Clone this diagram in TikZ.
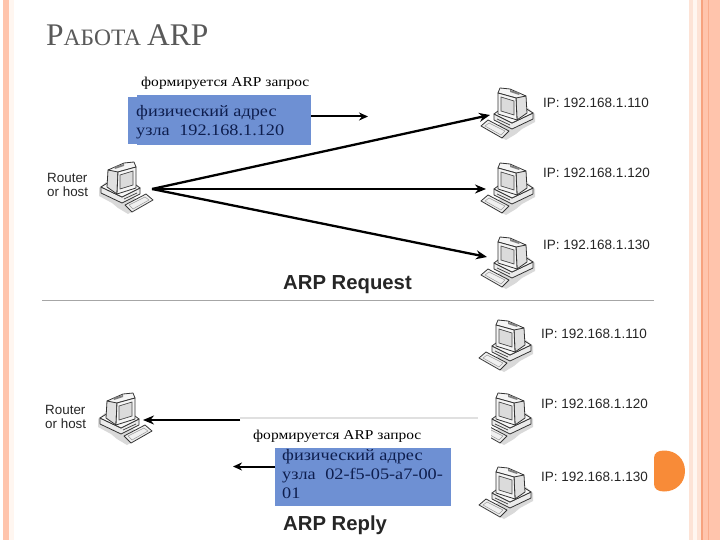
\documentclass[tikz,border=0pt]{standalone}
\usepackage{fontspec}
\setmainfont{Liberation Serif}
\newfontfamily\sansf{Liberation Sans}
\newfontfamily\wideserif[FakeStretch=1.14]{Liberation Serif}
\usetikzlibrary{arrows.meta}
\definecolor{peach}{HTML}{FFC4AC}
\definecolor{paleP}{HTML}{FDE3D6}
\definecolor{cream}{HTML}{FFF6F0}
\definecolor{deep}{HTML}{F7A27E}
\definecolor{boxblue}{HTML}{6E90D3}
\definecolor{navy}{HTML}{0E1E4E}
\definecolor{markorange}{HTML}{F88B38}
\tikzset{
  x=1pt,y=-1pt,
  arr/.style={line width=2.3pt,-{Stealth[length=11pt,width=9pt]}},
  smallarr/.style={line width=2pt,-{Stealth[length=9pt,width=8pt]}},
  iplabel/.style={anchor=west,inner sep=0pt,font=\sansf\fontsize{13.5}{16}\selectfont,text=black!85},
  hostlabel/.style={anchor=west,inner sep=0pt,align=left,font=\sansf\fontsize{13.4}{14.2}\selectfont,text=black!85},
  heading/.style={anchor=west,inner sep=0pt,font=\sansf\bfseries\fontsize{20.3}{22}\selectfont,text=black!85},
  note/.style={anchor=west,inner sep=0pt,font=\wideserif\fontsize{13.6}{15}\selectfont},
  boxtext/.style={anchor=north west,inner sep=0pt,align=left,text=navy,font=\wideserif\fontsize{16}{18.6}\selectfont},
  pcline/.style={draw=black!80,line width=0.8pt,line join=round},
  pc/.pic={
    \fill[black!15] (5,42) -- (24,52) -- (34,46) -- (40,41) -- (53,34) -- (53,26) -- (46,20) -- (30,30) -- cycle;
    % keyboard
    \filldraw[pcline,fill=black!6] (-1,38) -- (6,32) -- (27,43) -- (20,50) -- cycle;
    \draw[black!40,line width=0.5pt] (3,38) -- (7,35) -- (23,43) -- (19,47) -- cycle;
    % base
    \filldraw[pcline,fill=black!8] (12,26) -- (30,35) -- (51,25) -- (51,31) -- (30,41) -- (12,32) -- cycle;
    \filldraw[pcline,fill=black!3] (12,26) -- (20,20) -- (43,20) -- (51,25) -- (30,35) -- cycle;
    \draw[black!75,line width=0.7pt] (15,31) -- (28,37);
    % monitor
    \filldraw[pcline,fill=black!12] (34,7) -- (44,8) -- (45,25) -- (35,32) -- cycle;
    \filldraw[pcline,fill=black!4] (16,5) -- (18,0) -- (28,1) -- (44,8) -- (34,10) -- cycle;
    \filldraw[pcline,fill=black!4] (16,5) -- (34,10) -- (35,32) -- (16,26) -- cycle;
    \filldraw[draw=black!70,line width=0.7pt,fill=black!14] (19,9) -- (32,13) -- (32,27) -- (19,23) -- cycle;
    \fill[black!50] (28,2) -- (38,5) -- (37,7) -- (28,4) -- cycle;
  }
}
\begin{document}
\begin{tikzpicture}
\useasboundingbox (0,0) rectangle (720,540);
% side bands
\fill[peach] (3.3,0) rectangle (9.3,540);
\fill[cream] (9.3,0) rectangle (14,540);
\fill[paleP] (689,0) rectangle (693,540);
\fill[cream] (693,0) rectangle (697,540);
\fill[paleP] (697,0) rectangle (701,540);
\fill[deep] (701,0) rectangle (703,540);
\fill[peach] (703,0) rectangle (720,540);
\fill[deep!70!peach] (708,0) rectangle (709,540);
% title
\node[anchor=base west,inner sep=0pt,text=black!65] (title) at (46,46)
  {\fontsize{31.5}{32}\selectfont Р\fontsize{23.5}{24}\selectfont АБОТА \fontsize{31.5}{32}\selectfont ARP};
% computers
\pic (p1) at (482,88) {pc};
\pic (p2) at (482,163) {pc};
\pic (p3) at (482,237) {pc};
\pic[xscale=-1] (r1) at (152,162) {pc};
\pic (q1) at (480,320) {pc};
\pic (q2) at (480,393) {pc};
\pic (q3) at (480,467) {pc};
\pic[xscale=-1] (r2) at (151,393) {pc};
% labels
\node[iplabel] (ip1) at (543,103) {IP: 192.168.1.110};
\node[iplabel] (ip2) at (543,173) {IP: 192.168.1.120};
\node[iplabel] (ip3) at (543,245) {IP: 192.168.1.130};
\node[iplabel] (iq1) at (541,334) {IP: 192.168.1.110};
\node[iplabel] (iq2) at (541,404) {IP: 192.168.1.120};
\node[iplabel] (iq3) at (541,477) {IP: 192.168.1.130};
\node[hostlabel] (h1) at (47,185) {Router\\or host};
\node[hostlabel] (h2) at (45,417) {Router\\or host};
\node[heading] (reqt) at (283,285) {ARP Request};
\node[heading] (rept) at (283,525) {ARP Reply};
% separator
\coordinate (sepL) at (42,300.5);
\coordinate (sepR) at (654,300.5);
\draw[black!35,line width=1.5pt] (sepL) -- (sepR);
% request arrows
\coordinate (hub) at (152,189);
\coordinate (t1) at (490,115);
\coordinate (t2) at (486,189);
\coordinate (t3) at (487,257);
\draw[arr] (hub) -- (t1);
\draw[arr] (hub) -- (t2);
\draw[arr] (hub) -- (t3);
% top blue box
\fill[boxblue] (128,97) rectangle (311,144);
\fill[boxblue] (137,95) rectangle (311,145);
\coordinate (b1e) at (311,116.5);
\coordinate (b1t) at (368,116.5);
\draw[smallarr] (b1e) -- (b1t);
\node[boxtext] (b1) at (136,105.5) {физический адрес\\узла\hspace{0.6em}192.168.1.120};
\node[note] (n1) at (141,83) {формируется ARP запрос};
% reply: covered strip and upper arrow
\fill[black!12] (240,417) rectangle (478,418.5);
\fill[white] (240,418.5) rectangle (491,448);
\coordinate (s2) at (240,420);
\coordinate (t4) at (143,420);
\draw[arr] (s2) -- (t4);
\fill[boxblue] (275,448) rectangle (451,506);
\coordinate (b2w) at (275,466.5);
\coordinate (b2t) at (233,466.5);
\draw[smallarr] (b2w) -- (b2t);
\node[boxtext] (b2) at (282,449.5) {физический адрес\\узла\hspace{0.6em}02-f5-05-a7-00-\\01};
\node[note] (n2) at (253,436) {формируется ARP запрос};
% orange marker
\fill[markorange] (654,458) .. controls (654,453) and (658,450.5) .. (664,450.5)
  .. controls (676,450.5) and (685,459) .. (685,471)
  .. controls (685,483) and (676,491.5) .. (664,491.5)
  .. controls (658,491.5) and (654,489) .. (654,484) -- cycle;
\end{tikzpicture}
\end{document}
